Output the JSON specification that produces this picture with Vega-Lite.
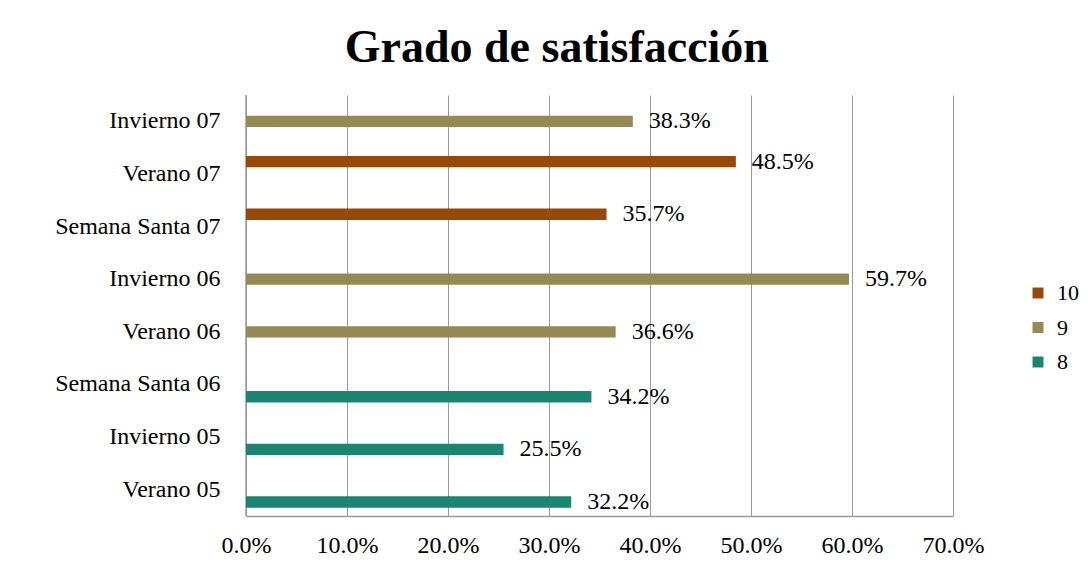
{
  "$schema": "https://vega.github.io/schema/vega-lite/v6.json",
  "autosize": "none",
  "width": 707,
  "height": 421,
  "padding": {"left": 246, "top": 95, "right": 135, "bottom": 57},
  "background": "white",
  "title": {
    "text": "Grado de satisfacción",
    "font": "Liberation Serif",
    "fontSize": 46,
    "fontWeight": "bold",
    "color": "black",
    "anchor": "middle",
    "frame": "bounds",
    "baseline": "alphabetic",
    "offset": -14,
    "dx": -10
  },
  "data": {
    "values": [
      {"periodo": "Invierno 07", "serie": "9", "valor": 0.383},
      {"periodo": "Verano 07", "serie": "10", "valor": 0.485},
      {"periodo": "Semana Santa 07", "serie": "10", "valor": 0.357},
      {"periodo": "Invierno 06", "serie": "9", "valor": 0.597},
      {"periodo": "Verano 06", "serie": "9", "valor": 0.366},
      {"periodo": "Semana Santa 06", "serie": "8", "valor": 0.342},
      {"periodo": "Invierno 05", "serie": "8", "valor": 0.255},
      {"periodo": "Verano 05", "serie": "8", "valor": 0.322}
    ]
  },
  "encoding": {
    "y": {
      "field": "periodo",
      "type": "nominal",
      "sort": ["Invierno 07", "Verano 07", "Semana Santa 07", "Invierno 06", "Verano 06", "Semana Santa 06", "Invierno 05", "Verano 05"],
      "scale": {"paddingInner": 0.314, "paddingOuter": 0.157},
      "axis": {
        "title": null,
        "ticks": false,
        "domain": false,
        "grid": false,
        "labelFont": "Liberation Serif",
        "labelFontSize": 24,
        "labelColor": "black",
        "labelPadding": 26
      }
    },
    "yOffset": {
      "field": "serie",
      "type": "nominal",
      "scale": {"domain": ["10", "9", "8"], "paddingInner": 0.08, "paddingOuter": 0}
    },
    "x": {
      "field": "valor",
      "type": "quantitative",
      "scale": {"domain": [0, 0.7], "nice": false},
      "axis": {
        "title": null,
        "format": ".1%",
        "values": [0, 0.1, 0.2, 0.3, 0.4, 0.5, 0.6, 0.7],
        "ticks": false,
        "domain": true,
        "domainColor": "#9a9a9a",
        "domainWidth": 1.5,
        "grid": true,
        "gridColor": "#9a9a9a",
        "gridWidth": 1,
        "labelFont": "Liberation Serif",
        "labelFontSize": 24,
        "labelColor": "black",
        "labelPadding": 17,
        "labelFlush": false
      }
    }
  },
  "layer": [
    {
      "mark": {"type": "rule", "color": "#9a9a9a", "strokeWidth": 1.5},
      "data": {"values": [{"v": 0}]},
      "encoding": {"x": {"field": "v", "type": "quantitative"}, "y": null, "yOffset": null}
    },
    {
      "mark": {"type": "bar"},
      "encoding": {
        "color": {
          "field": "serie",
          "type": "nominal",
          "scale": {"domain": ["10", "9", "8"], "range": ["#984807", "#948A54", "#1B8670"]},
          "legend": {
            "title": null,
            "orient": "none",
            "legendX": 781,
            "legendY": 187,
            "symbolType": "square",
            "symbolSize": 120,
            "symbolStrokeWidth": 0,
            "labelFont": "Liberation Serif",
            "labelFontSize": 22,
            "labelColor": "black",
            "labelOffset": 8,
            "rowPadding": 12.5
          }
        }
      }
    },
    {
      "mark": {"type": "text", "align": "left", "baseline": "middle", "dx": 16, "font": "Liberation Serif", "fontSize": 24, "color": "black"},
      "encoding": {
        "text": {"field": "valor", "type": "quantitative", "format": ".1%"}
      }
    }
  ],
  "config": {
    "view": {"stroke": null}
  }
}
